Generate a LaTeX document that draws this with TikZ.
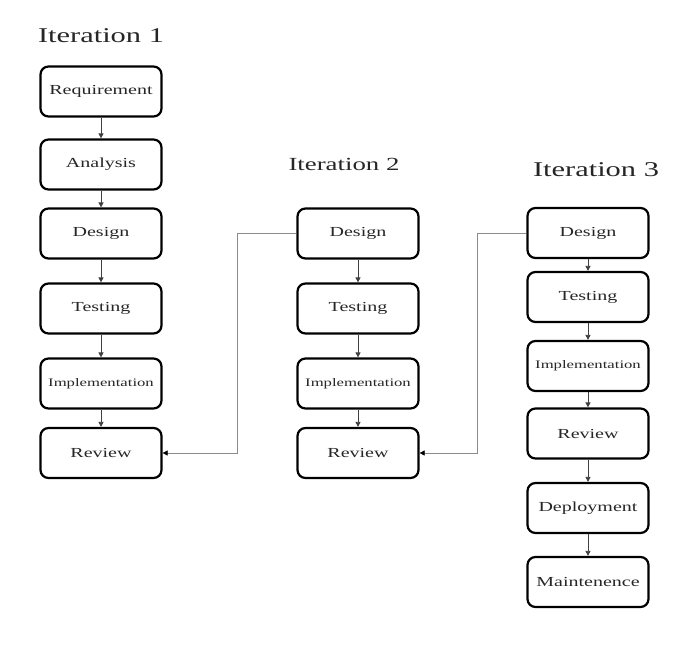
\documentclass[tikz,border=0pt]{standalone}
\usepackage{fontspec}
\setmainfont{Liberation Serif}[FakeStretch=1.45]
\usetikzlibrary{arrows.meta}
\begin{document}
\begin{tikzpicture}[x=1pt,y=-1pt,
  stepbox/.style={draw=black,line width=2.2pt,rounded corners=8pt,minimum width=121pt,minimum height=50pt,inner sep=0pt,font=\fontsize{13.8}{15}\selectfont,text=black!85},
  smallbox/.style={stepbox,font=\fontsize{11.5}{13}\selectfont},
  flow/.style={draw=black!75,line width=0.7pt,-{Triangle[length=5pt,width=5pt]}},
  back/.style={draw=black!45,line width=0.7pt,-{Triangle[length=5pt,width=5pt,black]}},
  title/.style={font=\fontsize{21}{24}\selectfont,text=black!85,inner sep=0pt}]
\useasboundingbox (0,0) rectangle (697,645);
% Iteration 1
\node[title] (t1) at (101,36) {Iteration 1};
\node[stepbox] (a1) at (101,91.5) {Requirement};
\node[stepbox] (a2) at (101,164.5) {Analysis};
\node[stepbox] (a3) at (101,233.5) {Design};
\node[stepbox] (a4) at (101,308.5) {Testing};
\node[smallbox] (a5) at (101,383.5) {Implementation};
\node[stepbox] (a6) at (101,453) {Review};
\draw[flow] (a1) -- (a2);
\draw[flow] (a2) -- (a3);
\draw[flow] (a3) -- (a4);
\draw[flow] (a4) -- (a5);
\draw[flow] (a5) -- (a6);
% Iteration 2
\node[title,font=\fontsize{18.5}{21}\selectfont] (t2) at (344,164) {Iteration 2};
\node[stepbox] (b1) at (358,233.5) {Design};
\node[stepbox] (b2) at (358,308.5) {Testing};
\node[smallbox] (b3) at (358,383.5) {Implementation};
\node[stepbox] (b4) at (358,453) {Review};
\draw[flow] (b1) -- (b2);
\draw[flow] (b2) -- (b3);
\draw[flow] (b3) -- (b4);
% Iteration 3
\node[title] (t3) at (596,170) {Iteration 3};
\node[stepbox] (c1) at (588,233) {Design};
\node[stepbox] (c2) at (588,297) {Testing};
\node[smallbox] (c3) at (588,366) {Implementation};
\node[stepbox] (c4) at (588,433.5) {Review};
\node[stepbox] (c5) at (588,508) {Deployment};
\node[stepbox] (c6) at (588,582) {Maintenence};
\draw[flow] (c1) -- (c2);
\draw[flow] (c2) -- (c3);
\draw[flow] (c3) -- (c4);
\draw[flow] (c4) -- (c5);
\draw[flow] (c5) -- (c6);
% feedback connectors
\coordinate (k1) at (237,233.5);
\coordinate (k2) at (237,453);
\draw[back] (b1.west) -- (k1) -- (k2) -- (a6.east);
\coordinate (m1) at (477,233);
\coordinate (m2) at (477,453);
\draw[back] (c1.west) -- (m1) -- (m2) -- (b4.east);
\end{tikzpicture}
\end{document}
